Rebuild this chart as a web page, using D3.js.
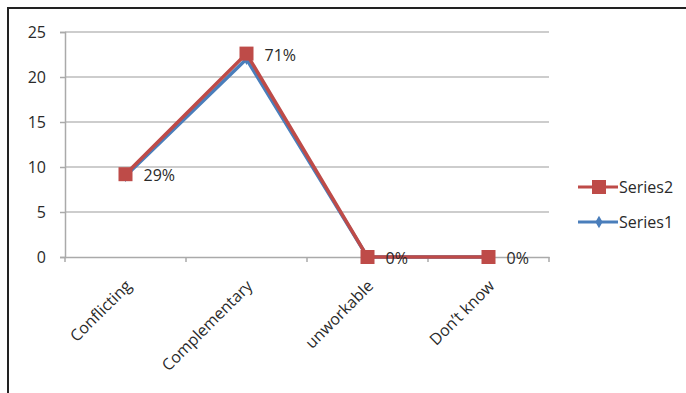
<!DOCTYPE html>
<html>
<head>
<meta charset="utf-8">
<script src="https://cdn.jsdelivr.net/npm/d3@7"></script>
<style>
  body { margin: 0; background: #fff; }
  svg text { font-family: "Open Sans", "Liberation Sans", sans-serif; fill: #2a2a2a; }
</style>
</head>
<body>
<svg id="chart" width="686" height="393"></svg>
<script>
const categories = ["Conflicting", "Complementary", "unworkable", "Don\u2019t know"]
const series1 = [9, 22, 0, 0]
const series2 = [9.2, 22.6, 0, 0]
const pctLabels = ["29%", "71%", "0%", "0%"]
const yTicks = [0, 5, 10, 15, 20, 25]

const svg = d3.select("#chart")

// frame (top and left edges only visible)
svg.append("line").attr("x1", 7).attr("x2", 686).attr("y1", 8).attr("y2", 8)
  .attr("stroke", "#222").attr("stroke-width", 2)
svg.append("line").attr("x1", 8).attr("x2", 8).attr("y1", 7).attr("y2", 393)
  .attr("stroke", "#222").attr("stroke-width", 2)

const x = d3.scaleBand().domain(categories).range([65, 549])
const y = d3.scaleLinear().domain([0, 25]).range([257, 32])
const cx = d => x(d) + x.bandwidth() / 2

// gridlines
svg.append("g").selectAll("line").data(yTicks.filter(t => t > 0)).join("line")
  .attr("x1", 65).attr("x2", 549)
  .attr("y1", d => y(d)).attr("y2", d => y(d))
  .attr("stroke", "#bdbdbd").attr("stroke-width", 1.5)

// y axis
const yAxis = svg.append("g").attr("transform", "translate(65,0)")
  .call(d3.axisLeft(y).tickValues(yTicks).tickSize(5).tickPadding(14))
yAxis.select(".domain").attr("stroke", "#aaa").attr("stroke-width", 1.5)
yAxis.selectAll(".tick line").attr("stroke", "#aaa").attr("stroke-width", 1.5)
yAxis.selectAll("text").attr("font-size", 16).style("fill", "#2a2a2a")

// x axis
const xAxis = svg.append("g").attr("transform", "translate(0,257)")
  .call(d3.axisBottom(x).tickSize(0).tickSizeOuter(0))
xAxis.select(".domain").attr("stroke", "#aaa").attr("stroke-width", 1.5)
xAxis.selectAll(".tick text")
  .attr("font-size", 16).style("fill", "#2a2a2a")
  .attr("text-anchor", "end")
  .attr("x", 0).attr("y", 0).attr("dy", "0.35em")
  .attr("transform", "translate(3,26) rotate(-45)")
// boundary tick marks
svg.append("g").selectAll("line").data(d3.range(categories.length + 1)).join("line")
  .attr("x1", i => 65 + i * x.bandwidth()).attr("x2", i => 65 + i * x.bandwidth())
  .attr("y1", 257).attr("y2", 262)
  .attr("stroke", "#aaa").attr("stroke-width", 1.5)

const line = d3.line().x((d, i) => cx(categories[i])).y(d => y(d))

// Series1
svg.append("path").datum(series1).attr("d", line)
  .attr("fill", "none").attr("stroke", "#4a7ebb").attr("stroke-width", 3.5)
svg.append("g").selectAll("path").data(series1).join("path")
  .attr("d", d3.symbol(d3.symbolDiamond, 40))
  .attr("transform", (d, i) => `translate(${cx(categories[i])},${y(d)})`)
  .attr("fill", "#4a7ebb")

// Series2
svg.append("path").datum(series2).attr("d", line)
  .attr("fill", "none").attr("stroke", "#be4b48").attr("stroke-width", 3.5)
svg.append("g").selectAll("rect").data(series2).join("rect")
  .attr("x", (d, i) => cx(categories[i]) - 7).attr("y", d => y(d) - 7)
  .attr("width", 14).attr("height", 14)
  .attr("fill", "#be4b48")

// data labels
svg.append("g").selectAll("text").data(series2).join("text")
  .attr("x", (d, i) => cx(categories[i]) + 18)
  .attr("y", d => y(d) + 7)
  .attr("font-size", 16)
  .text((d, i) => pctLabels[i])

// legend
const legend = [{ name: "Series2", color: "#be4b48", mark: "square" },
                { name: "Series1", color: "#4a7ebb", mark: "diamond" }]
const lg = svg.append("g").selectAll("g").data(legend).join("g")
  .attr("transform", (d, i) => `translate(578,${187 + i * 35})`)
lg.append("line").attr("x1", 0).attr("x2", 40).attr("stroke", d => d.color).attr("stroke-width", 3)
lg.filter(d => d.mark === "square").append("rect")
  .attr("x", 14).attr("y", -7).attr("width", 14).attr("height", 14).attr("fill", d => d.color)
lg.filter(d => d.mark === "diamond").append("path")
  .attr("d", d3.symbol(d3.symbolDiamond, 45)).attr("transform", "translate(21,0)")
  .attr("fill", d => d.color)
lg.append("text").attr("x", 41).attr("dy", "0.35em").attr("font-size", 16)
  .text(d => d.name)
</script>
</body>
</html>
